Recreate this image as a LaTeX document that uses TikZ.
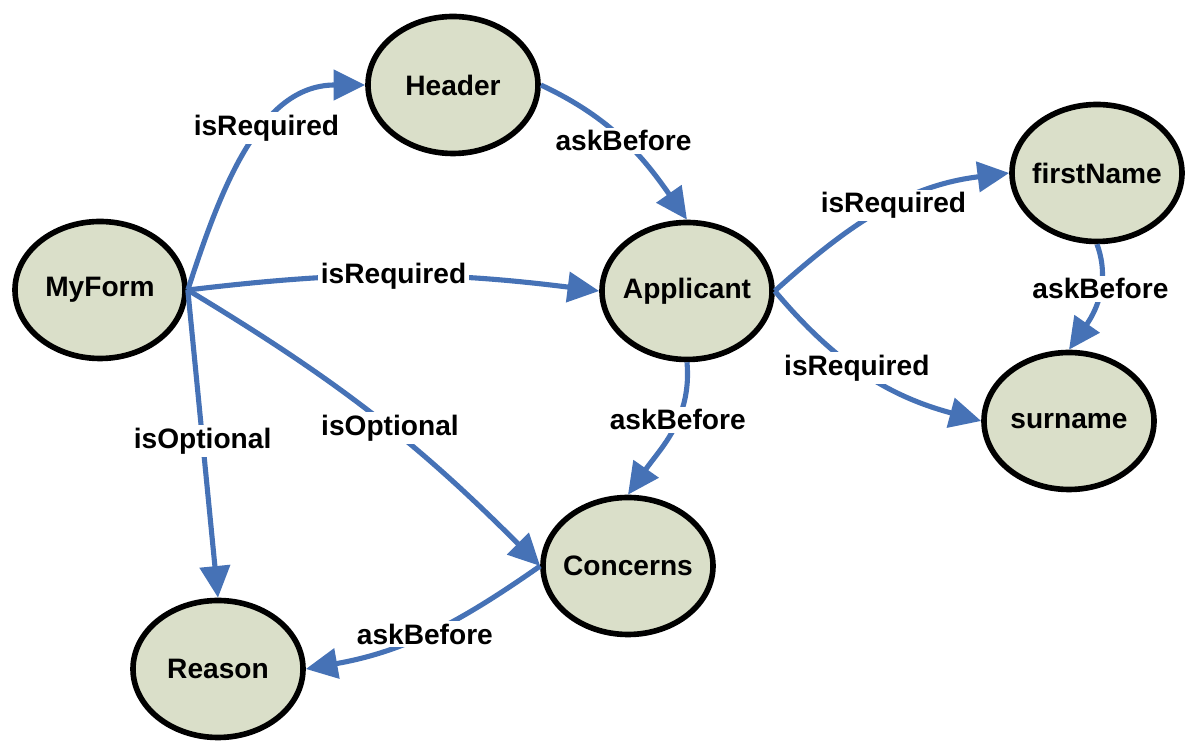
\documentclass[tikz,border=0pt]{standalone}
\usepackage{fontspec}
\setmainfont{Liberation Sans}
\usetikzlibrary{arrows.meta,shapes.geometric}
\definecolor{edgeblue}{RGB}{70,114,182}
\definecolor{nodefill}{RGB}{218,223,201}

\begin{document}
\begin{tikzpicture}[
    concept/.style={ellipse, draw=black, line width=3.2pt, fill=nodefill,
        inner xsep=-0.2cm, inner ysep=0pt,
        minimum width=3.4cm, minimum height=2.74cm,
        font=\fontsize{16}{19}\selectfont\bfseries},
    rel/.style={draw=edgeblue, line width=2.9pt,
        -{Triangle[length=18pt, width=17pt]}},
    lbl/.style={fill=white, inner sep=1.5pt,
        font=\fontsize{16}{19}\selectfont\bfseries}
]
            \useasboundingbox (0,0) rectangle (23.72,14.84);
            \node[concept] (myform) at (2.0, 9.04) {MyForm};
            \node[concept] (header) at (9.06, 13.14) {Header};
            \node[concept] (applicant) at (13.74, 9.02) {Applicant};
            \node[concept] (firstname) at (21.94, 11.38) {firstName};
            \node[concept] (surname) at (21.38, 6.42) {surname};
            \node[concept] (concerns) at (12.56, 3.52) {Concerns};
            \node[concept] (reason) at (4.36, 1.46) {Reason};
            \draw[rel] (myform.east) to[out=72, in=180] node[lbl, pos=0.6]{isRequired} (header.west);
            \draw[rel] (myform.east) to[bend left=7] node[lbl, pos=0.5]{isRequired} (applicant.west);
            \draw[rel] (myform.east) to[bend left=7] node[lbl, pos=0.55]{isOptional} (concerns.west);
            \draw[rel] (myform.east) -- node[lbl, pos=0.49]{isOptional} (reason.north);
            \draw[rel] (header.east) to[out=-25, in=125] node[lbl, pos=0.5]{askBefore} (applicant.north);
            \draw[rel] (applicant.south) to[out=-85, in=55] node[lbl, pos=0.4]{askBefore} (concerns.north);
            \draw[rel] (applicant.east) to[out=42, in=187] node[lbl, pos=0.55]{isRequired} (firstname.west);
            \draw[rel] (applicant.east) to[out=-50, in=165] node[lbl, pos=0.45]{isRequired} (surname.west);
            \draw[rel] (firstname.south) to[out=-70, in=55] node[lbl, pos=0.4]{askBefore} (surname.north);
            \draw[rel] (concerns.west) to[out=215, in=10] node[lbl, pos=0.52]{askBefore} (reason.east);
        \end{tikzpicture}
\end{document}
